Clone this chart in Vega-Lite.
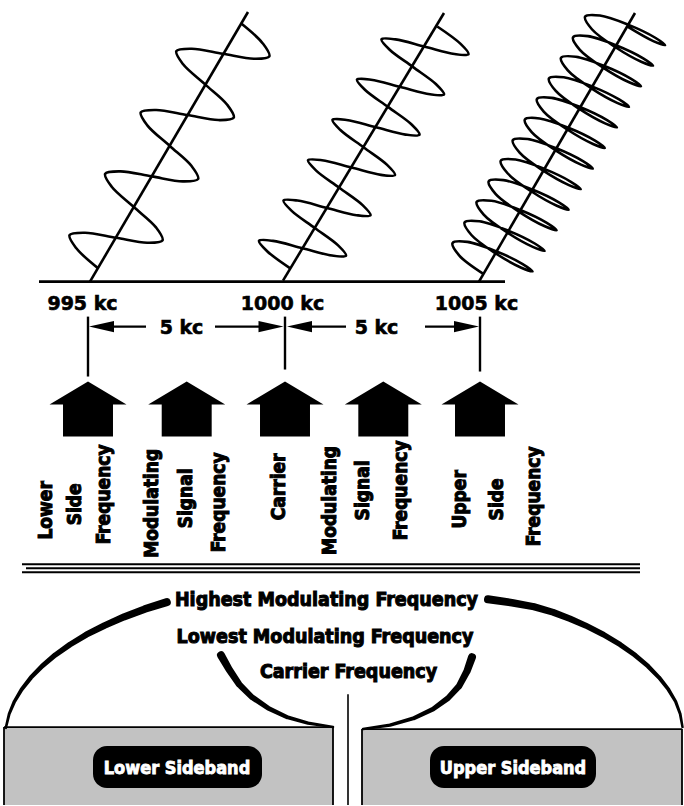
{
  "$schema": "https://vega.github.io/schema/vega-lite/v6.json",
  "width": 684,
  "height": 806,
  "autosize": {"type": "fit", "contains": "padding"},
  "padding": 0,
  "background": "white",
  "config": {"view": {"stroke": null}},
  "datasets": {
    "waves": [
      {"w":1,"i":2,"x":98.25,"y":268.7},{"w":1,"i":3,"x":76.11,"y":248.34},{"w":1,"i":4,"x":69.55,"y":235.4},{"w":1,"i":5,"x":85.01,"y":232.99},{"w":1,"i":6,"x":116.05,"y":238.0},{"w":1,"i":7,"x":147.09,"y":243.02},{"w":1,"i":8,"x":162.55,"y":240.6},{"w":1,"i":9,"x":155.99,"y":227.67},{"w":1,"i":10,"x":133.85,"y":207.3},{"w":1,"i":11,"x":111.71,"y":186.94},{"w":1,"i":12,"x":105.15,"y":174.0},{"w":1,"i":13,"x":120.61,"y":171.59},{"w":1,"i":14,"x":151.65,"y":176.6},{"w":1,"i":15,"x":182.69,"y":181.62},{"w":1,"i":16,"x":198.15,"y":179.2},{"w":1,"i":17,"x":191.59,"y":166.27},{"w":1,"i":18,"x":169.45,"y":145.9},{"w":1,"i":19,"x":147.31,"y":125.54},{"w":1,"i":20,"x":140.75,"y":112.6},{"w":1,"i":21,"x":156.21,"y":110.19},{"w":1,"i":22,"x":187.25,"y":115.2},{"w":1,"i":23,"x":218.29,"y":120.22},{"w":1,"i":24,"x":233.75,"y":117.8},{"w":1,"i":25,"x":227.19,"y":104.87},{"w":1,"i":26,"x":205.05,"y":84.5},{"w":1,"i":27,"x":182.91,"y":64.14},{"w":1,"i":28,"x":176.35,"y":51.2},{"w":1,"i":29,"x":191.81,"y":48.79},{"w":1,"i":30,"x":222.85,"y":53.8},{"w":1,"i":31,"x":253.89,"y":58.82},{"w":1,"i":32,"x":269.35,"y":56.4},{"w":1,"i":33,"x":262.79,"y":43.47},{"w":1,"i":34,"x":240.65,"y":23.1},
      {"w":2,"i":2,"x":290.26,"y":268.67},{"w":2,"i":3,"x":266.89,"y":251.26},{"w":2,"i":4,"x":259.0,"y":241.1},{"w":2,"i":5,"x":273.01,"y":241.17},{"w":2,"i":6,"x":302.51,"y":248.5},{"w":2,"i":7,"x":332.0,"y":255.82},{"w":2,"i":8,"x":346.01,"y":255.9},{"w":2,"i":9,"x":338.12,"y":245.74},{"w":2,"i":10,"x":314.76,"y":228.32},{"w":2,"i":11,"x":291.39,"y":210.91},{"w":2,"i":12,"x":283.5,"y":200.75},{"w":2,"i":13,"x":297.51,"y":200.82},{"w":2,"i":14,"x":327.01,"y":208.15},{"w":2,"i":15,"x":356.5,"y":215.47},{"w":2,"i":16,"x":370.51,"y":215.55},{"w":2,"i":17,"x":362.62,"y":205.39},{"w":2,"i":18,"x":339.26,"y":187.97},{"w":2,"i":19,"x":315.89,"y":170.56},{"w":2,"i":20,"x":308.0,"y":160.4},{"w":2,"i":21,"x":322.01,"y":160.47},{"w":2,"i":22,"x":351.51,"y":167.8},{"w":2,"i":23,"x":381.0,"y":175.12},{"w":2,"i":24,"x":395.01,"y":175.2},{"w":2,"i":25,"x":387.12,"y":165.04},{"w":2,"i":26,"x":363.76,"y":147.62},{"w":2,"i":27,"x":340.39,"y":130.21},{"w":2,"i":28,"x":332.5,"y":120.05},{"w":2,"i":29,"x":346.51,"y":120.12},{"w":2,"i":30,"x":376.01,"y":127.45},{"w":2,"i":31,"x":405.5,"y":134.77},{"w":2,"i":32,"x":419.51,"y":134.85},{"w":2,"i":33,"x":411.62,"y":124.69},{"w":2,"i":34,"x":388.26,"y":107.27},{"w":2,"i":35,"x":364.89,"y":89.86},{"w":2,"i":36,"x":357.0,"y":79.7},{"w":2,"i":37,"x":371.01,"y":79.77},{"w":2,"i":38,"x":400.51,"y":87.1},{"w":2,"i":39,"x":430.0,"y":94.42},{"w":2,"i":40,"x":444.01,"y":94.5},{"w":2,"i":41,"x":436.12,"y":84.34},{"w":2,"i":42,"x":412.76,"y":66.92},{"w":2,"i":43,"x":389.39,"y":49.51},{"w":2,"i":44,"x":381.5,"y":39.35},{"w":2,"i":45,"x":395.51,"y":39.42},{"w":2,"i":46,"x":425.01,"y":46.75},{"w":2,"i":47,"x":454.5,"y":54.07},{"w":2,"i":48,"x":468.51,"y":54.15},{"w":2,"i":49,"x":460.62,"y":43.99},{"w":2,"i":50,"x":437.26,"y":26.57},
      {"w":3,"i":2,"x":482.97,"y":273.89},{"w":3,"i":3,"x":459.36,"y":255.87},{"w":3,"i":4,"x":452.54,"y":243.35},{"w":3,"i":5,"x":467.37,"y":242.18},{"w":3,"i":6,"x":496.08,"y":251.51},{"w":3,"i":7,"x":522.7,"y":264.39},{"w":3,"i":8,"x":532.54,"y":271.75},{"w":3,"i":9,"x":520.72,"y":267.78},{"w":3,"i":10,"x":495.02,"y":253.29},{"w":3,"i":11,"x":471.41,"y":235.27},{"w":3,"i":12,"x":464.59,"y":222.75},{"w":3,"i":13,"x":479.42,"y":221.58},{"w":3,"i":14,"x":508.13,"y":230.91},{"w":3,"i":15,"x":534.75,"y":243.79},{"w":3,"i":16,"x":544.59,"y":251.15},{"w":3,"i":17,"x":532.77,"y":247.18},{"w":3,"i":18,"x":507.07,"y":232.69},{"w":3,"i":19,"x":483.46,"y":214.67},{"w":3,"i":20,"x":476.64,"y":202.15},{"w":3,"i":21,"x":491.47,"y":200.98},{"w":3,"i":22,"x":520.18,"y":210.31},{"w":3,"i":23,"x":546.8,"y":223.19},{"w":3,"i":24,"x":556.64,"y":230.55},{"w":3,"i":25,"x":544.82,"y":226.58},{"w":3,"i":26,"x":519.12,"y":212.09},{"w":3,"i":27,"x":495.51,"y":194.07},{"w":3,"i":28,"x":488.69,"y":181.55},{"w":3,"i":29,"x":503.52,"y":180.38},{"w":3,"i":30,"x":532.23,"y":189.71},{"w":3,"i":31,"x":558.85,"y":202.59},{"w":3,"i":32,"x":568.69,"y":209.95},{"w":3,"i":33,"x":556.87,"y":205.98},{"w":3,"i":34,"x":531.17,"y":191.49},{"w":3,"i":35,"x":507.56,"y":173.47},{"w":3,"i":36,"x":500.74,"y":160.95},{"w":3,"i":37,"x":515.57,"y":159.78},{"w":3,"i":38,"x":544.28,"y":169.11},{"w":3,"i":39,"x":570.9,"y":181.99},{"w":3,"i":40,"x":580.74,"y":189.35},{"w":3,"i":41,"x":568.92,"y":185.38},{"w":3,"i":42,"x":543.22,"y":170.89},{"w":3,"i":43,"x":519.61,"y":152.87},{"w":3,"i":44,"x":512.79,"y":140.35},{"w":3,"i":45,"x":527.62,"y":139.18},{"w":3,"i":46,"x":556.33,"y":148.51},{"w":3,"i":47,"x":582.95,"y":161.39},{"w":3,"i":48,"x":592.79,"y":168.75},{"w":3,"i":49,"x":580.97,"y":164.78},{"w":3,"i":50,"x":555.27,"y":150.29},{"w":3,"i":51,"x":531.66,"y":132.27},{"w":3,"i":52,"x":524.84,"y":119.75},{"w":3,"i":53,"x":539.67,"y":118.58},{"w":3,"i":54,"x":568.38,"y":127.91},{"w":3,"i":55,"x":595.0,"y":140.79},{"w":3,"i":56,"x":604.84,"y":148.15},{"w":3,"i":57,"x":593.02,"y":144.18},{"w":3,"i":58,"x":567.32,"y":129.69},{"w":3,"i":59,"x":543.71,"y":111.67},{"w":3,"i":60,"x":536.89,"y":99.15},{"w":3,"i":61,"x":551.72,"y":97.98},{"w":3,"i":62,"x":580.43,"y":107.31},{"w":3,"i":63,"x":607.05,"y":120.19},{"w":3,"i":64,"x":616.89,"y":127.55},{"w":3,"i":65,"x":605.07,"y":123.58},{"w":3,"i":66,"x":579.37,"y":109.09},{"w":3,"i":67,"x":555.76,"y":91.07},{"w":3,"i":68,"x":548.94,"y":78.55},{"w":3,"i":69,"x":563.77,"y":77.38},{"w":3,"i":70,"x":592.48,"y":86.71},{"w":3,"i":71,"x":619.1,"y":99.59},{"w":3,"i":72,"x":628.94,"y":106.95},{"w":3,"i":73,"x":617.12,"y":102.98},{"w":3,"i":74,"x":591.42,"y":88.49},{"w":3,"i":75,"x":567.81,"y":70.47},{"w":3,"i":76,"x":560.99,"y":57.95},{"w":3,"i":77,"x":575.82,"y":56.78},{"w":3,"i":78,"x":604.53,"y":66.11},{"w":3,"i":79,"x":631.15,"y":78.99},{"w":3,"i":80,"x":640.99,"y":86.35},{"w":3,"i":81,"x":629.17,"y":82.38},{"w":3,"i":82,"x":603.47,"y":67.89},{"w":3,"i":83,"x":579.86,"y":49.87},{"w":3,"i":84,"x":573.04,"y":37.35},{"w":3,"i":85,"x":587.87,"y":36.18},{"w":3,"i":86,"x":616.58,"y":45.51},{"w":3,"i":87,"x":643.2,"y":58.39},{"w":3,"i":88,"x":653.04,"y":65.75},{"w":3,"i":89,"x":641.22,"y":61.78},{"w":3,"i":90,"x":615.52,"y":47.29},{"w":3,"i":91,"x":591.91,"y":29.27},{"w":3,"i":92,"x":585.09,"y":16.75},{"w":3,"i":93,"x":599.92,"y":15.58},{"w":3,"i":94,"x":628.63,"y":24.91},{"w":3,"i":95,"x":655.25,"y":37.79},{"w":3,"i":96,"x":665.09,"y":45.15},{"w":3,"i":97,"x":653.27,"y":41.18},{"w":3,"i":98,"x":627.57,"y":26.69}
    ],
    "rules": [
      {"k":"axis","x":90,"y":282,"x2":248,"y2":12},
      {"k":"axis","x":283,"y":281,"x2":444,"y2":13},
      {"k":"axis","x":479,"y":282,"x2":635,"y2":13},
      {"k":"axis","x":39,"y":282,"x2":505,"y2":282},
      {"k":"tick","x":88,"y":317,"x2":88,"y2":377},
      {"k":"tick","x":285,"y":317,"x2":285,"y2":370},
      {"k":"tick","x":480,"y":317,"x2":480,"y2":372},
      {"k":"shaft","x":113,"y":327,"x2":146,"y2":327},
      {"k":"shaft","x":215,"y":327,"x2":260,"y2":327},
      {"k":"shaft","x":311,"y":327,"x2":346,"y2":327},
      {"k":"shaft","x":425,"y":327,"x2":458,"y2":327},
      {"k":"triple","x":22,"y":565,"x2":640,"y2":565},
      {"k":"triple","x":26,"y":569,"x2":640,"y2":569},
      {"k":"triple","x":22,"y":573,"x2":640,"y2":573},
      {"k":"border","x":4,"y":728,"x2":333,"y2":728},
      {"k":"border","x":4,"y":728,"x2":4,"y2":806},
      {"k":"border","x":333,"y":728,"x2":333,"y2":806},
      {"k":"border","x":362,"y":730,"x2":682,"y2":730},
      {"k":"border","x":362,"y":730,"x2":362,"y2":806},
      {"k":"border","x":682,"y":730,"x2":682,"y2":806},
      {"k":"center","x":348,"y":695,"x2":348,"y2":806}
    ],
    "heads": [
      {"d":"left","x":101.5,"y":327},
      {"d":"right","x":271,"y":327},
      {"d":"left","x":299.5,"y":327},
      {"d":"right","x":466.5,"y":327}
    ],
    "houses": [
      {"x":88,"y":409.5},{"x":186.7,"y":409.5},{"x":285,"y":409.5},{"x":383.3,"y":409.5},{"x":480,"y":409.5}
    ],
    "klabels": [
      {"t":"995 kc","x":82.5,"y":310},
      {"t":"1000 kc","x":282.5,"y":310},
      {"t":"1005 kc","x":476.5,"y":310},
      {"t":"5 kc","x":181.5,"y":334},
      {"t":"5 kc","x":376.5,"y":334}
    ],
    "vlabels": [
      {"t":"Lower","x":45.5,"y":511},
      {"t":"Side","x":75,"y":505},
      {"t":"Frequency","x":104,"y":495},
      {"t":"Modulating","x":151.5,"y":504},
      {"t":"Signal","x":186,"y":499},
      {"t":"Frequency","x":218.5,"y":503},
      {"t":"Carrier","x":279,"y":487.5},
      {"t":"Modulating","x":330,"y":501},
      {"t":"Signal","x":363,"y":491},
      {"t":"Frequency","x":401,"y":491},
      {"t":"Upper","x":459.5,"y":500},
      {"t":"Side","x":497,"y":500},
      {"t":"Frequency","x":534,"y":497}
    ],
    "btext": [
      {"t":"Highest Modulating Frequency","x":326.5,"y":607},
      {"t":"Lowest Modulating Frequency","x":325,"y":644},
      {"t":"Carrier Frequency","x":348.5,"y":679}
    ],
    "boxes": [
      {"x":4,"x2":333,"y":728,"y2":806},
      {"x":362,"x2":682,"y":730,"y2":806}
    ],
    "blobs": [
      {"x":93,"x2":262,"y":747,"y2":789},
      {"x":430,"x2":596,"y":747,"y2":789}
    ],
    "boxtext": [
      {"t":"Lower Sideband","x":177,"y":775},
      {"t":"Upper Sideband","x":513,"y":775}
    ],
    "arcs": [
      {"a":"lo","i":0,"t":0,"x":166.8,"y":602.9},{"a":"lo","i":1,"t":0.083,"x":145.1,"y":609.7},{"a":"lo","i":2,"t":0.167,"x":124.2,"y":617.6},{"a":"lo","i":3,"t":0.25,"x":104.6,"y":626.2},{"a":"lo","i":4,"t":0.333,"x":86.5,"y":635.4},{"a":"lo","i":5,"t":0.417,"x":69.9,"y":645.4},{"a":"lo","i":6,"t":0.5,"x":55.1,"y":655.9},{"a":"lo","i":7,"t":0.583,"x":42.1,"y":666.9},{"a":"lo","i":8,"t":0.667,"x":30.9,"y":678.4},{"a":"lo","i":9,"t":0.75,"x":21.6,"y":690.3},{"a":"lo","i":10,"t":0.833,"x":14.4,"y":702.4},{"a":"lo","i":11,"t":0.917,"x":9.2,"y":714.8},{"a":"lo","i":12,"t":1,"x":5.8,"y":728.8},
      {"a":"ro","i":0,"t":0,"x":488,"y":600},{"a":"ro","i":1,"t":0.071,"x":512,"y":603.5},{"a":"ro","i":2,"t":0.143,"x":534,"y":607.5},{"a":"ro","i":3,"t":0.214,"x":553,"y":613},{"a":"ro","i":4,"t":0.286,"x":570,"y":619.5},{"a":"ro","i":5,"t":0.357,"x":585.4,"y":626.2},{"a":"ro","i":6,"t":0.429,"x":603.5,"y":635.4},{"a":"ro","i":7,"t":0.5,"x":620.1,"y":645.4},{"a":"ro","i":8,"t":0.571,"x":634.9,"y":655.9},{"a":"ro","i":9,"t":0.643,"x":647.9,"y":666.9},{"a":"ro","i":10,"t":0.714,"x":659.1,"y":678.4},{"a":"ro","i":11,"t":0.786,"x":668.4,"y":690.3},{"a":"ro","i":12,"t":0.857,"x":675.6,"y":702.4},{"a":"ro","i":13,"t":0.929,"x":680.2,"y":714.8},{"a":"ro","i":14,"t":1,"x":682.5,"y":728},
      {"a":"li","i":0,"t":0,"x":221,"y":656},{"a":"li","i":1,"t":0.143,"x":229,"y":670},{"a":"li","i":2,"t":0.286,"x":239,"y":685},{"a":"li","i":3,"t":0.429,"x":252,"y":698},{"a":"li","i":4,"t":0.571,"x":268,"y":709},{"a":"li","i":5,"t":0.714,"x":287,"y":718},{"a":"li","i":6,"t":0.857,"x":308,"y":724},{"a":"li","i":7,"t":1,"x":333,"y":728},
      {"a":"ri","i":0,"t":0,"x":472,"y":658},{"a":"ri","i":1,"t":0.143,"x":467,"y":672},{"a":"ri","i":2,"t":0.286,"x":459,"y":687},{"a":"ri","i":3,"t":0.429,"x":448,"y":699},{"a":"ri","i":4,"t":0.571,"x":433,"y":710},{"a":"ri","i":5,"t":0.714,"x":414,"y":719},{"a":"ri","i":6,"t":0.857,"x":390,"y":726},{"a":"ri","i":7,"t":1,"x":363,"y":730}
    ]
  },
  "encoding": {
    "x": {"field": "x", "type": "quantitative", "scale": {"domain": [0, 684], "nice": false, "zero": false}, "axis": null},
    "y": {"field": "y", "type": "quantitative", "scale": {"domain": [0, 806], "nice": false, "zero": false, "reverse": true}, "axis": null}
  },
  "layer": [
    {
      "data": {"name": "boxes"},
      "mark": {"type": "rect", "fill": "#c2c2c2", "stroke": null},
      "encoding": {"x2": {"field": "x2"}, "y2": {"field": "y2"}}
    },
    {
      "data": {"name": "blobs"},
      "mark": {"type": "rect", "fill": "#000000", "cornerRadius": 14},
      "encoding": {"x2": {"field": "x2"}, "y2": {"field": "y2"}}
    },
    {
      "data": {"name": "boxtext"},
      "mark": {"type": "text", "font": "DejaVu Sans Condensed, DejaVu Sans, sans-serif", "fontWeight": "bold", "fontSize": 18, "align": "center", "baseline": "alphabetic", "fill": "#ffffff", "stroke": "#ffffff", "strokeWidth": 0.8},
      "encoding": {"text": {"field": "t"}}
    },
    {
      "data": {"name": "arcs"},
      "mark": {"type": "trail", "color": "#000000"},
      "encoding": {
        "detail": {"field": "a"},
        "order": {"field": "i", "type": "quantitative"},
        "size": {"field": "t", "type": "quantitative", "scale": {"domain": [0, 1], "range": [8, 2.5]}, "legend": null}
      }
    },
    {
      "data": {"name": "rules"},
      "mark": {"type": "rule", "color": "#000000", "strokeCap": "butt"},
      "encoding": {
        "x2": {"field": "x2"},
        "y2": {"field": "y2"},
        "strokeWidth": {"field": "k", "type": "nominal", "scale": {"domain": ["axis", "tick", "shaft", "triple", "border", "center"], "range": [2.6, 1.6, 3.5, 1.6, 3, 5]}, "legend": null}
      }
    },
    {
      "data": {"name": "waves"},
      "mark": {"type": "line", "interpolate": "catmull-rom", "color": "#000000", "strokeWidth": 2.6},
      "encoding": {
        "detail": {"field": "w"},
        "order": {"field": "i", "type": "quantitative"}
      }
    },
    {
      "data": {"name": "heads"},
      "mark": {"type": "point", "filled": true, "size": 625, "color": "#000000", "opacity": 1},
      "encoding": {
        "shape": {"field": "d", "type": "nominal", "scale": {"domain": ["left", "right"], "range": ["M -1 0 L 1 -0.45 L 1 0.45 Z", "M 1 0 L -1 -0.45 L -1 0.45 Z"]}, "legend": null}
      }
    },
    {
      "data": {"name": "houses"},
      "mark": {"type": "point", "filled": true, "size": 5929, "color": "#000000", "opacity": 1, "shape": "M 0 -0.714 L 1 -0.117 L 0.649 -0.117 L 0.649 0.714 L -0.649 0.714 L -0.649 -0.117 L -1 -0.117 Z"}
    },
    {
      "data": {"name": "klabels"},
      "mark": {"type": "text", "font": "DejaVu Sans", "fontWeight": "bold", "fontSize": 19, "align": "center", "baseline": "alphabetic", "fill": "#000000", "stroke": "#000000", "strokeWidth": 0.6},
      "encoding": {"text": {"field": "t"}}
    },
    {
      "data": {"name": "vlabels"},
      "mark": {"type": "text", "font": "DejaVu Sans Condensed, DejaVu Sans, sans-serif", "fontWeight": "bold", "fontSize": 19, "align": "center", "baseline": "middle", "angle": 270, "fill": "#000000", "stroke": "#000000", "strokeWidth": 1},
      "encoding": {"text": {"field": "t"}}
    },
    {
      "data": {"name": "btext"},
      "mark": {"type": "text", "font": "DejaVu Sans Condensed, DejaVu Sans, sans-serif", "fontWeight": "bold", "fontSize": 19.5, "align": "center", "baseline": "alphabetic", "fill": "#000000", "stroke": "#000000", "strokeWidth": 1},
      "encoding": {"text": {"field": "t"}}
    }
  ]
}
